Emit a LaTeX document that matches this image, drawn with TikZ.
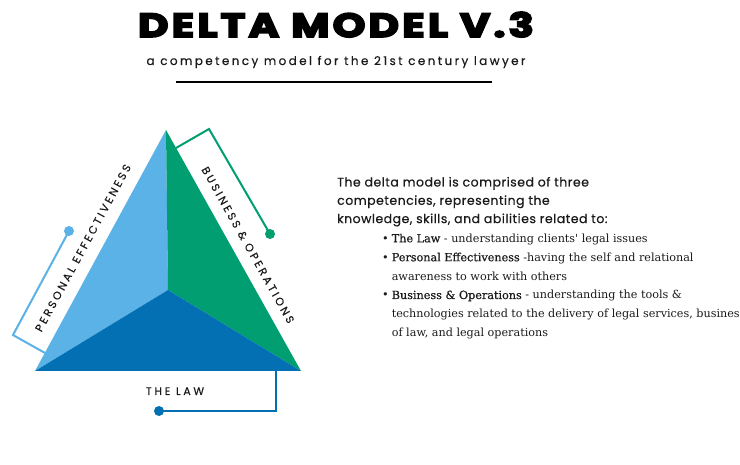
\documentclass[tikz,border=0pt]{standalone}
\usepackage{fontspec}
\setmainfont{Poppins}
\newfontfamily\titlefont{Poppins}[BoldFeatures={FakeBold=5},LetterSpace=8]
\newfontfamily\subfont{Poppins}[LetterSpace=20,FakeBold=0.4]
\newfontfamily\tagfont{Poppins}[LetterSpace=24,FakeBold=0.3]
\newfontfamily\introfont{Poppins}[LetterSpace=4,FakeBold=0.5]
\newfontfamily\itemfont{DejaVu Serif}
\newfontfamily\itembold{DejaVu Serif}[FakeBold=0.6]
\definecolor{peblue}{HTML}{5AB2E6}
\definecolor{bogreen}{HTML}{009E70}
\definecolor{lawblue}{HTML}{0270B2}
\definecolor{ink}{HTML}{1A1A1A}
\begin{document}
\begin{tikzpicture}[x=1pt,y=-1pt,
    link/.style={line width=2pt},
    dot/.style={circle,fill,inner sep=0pt,minimum size=10pt},
    tag/.style={inner sep=0pt,text=ink,font=\tagfont\fontsize{11}{13}\selectfont}]
  \clip (0,0) rectangle (740,465);
  % header
  \node[anchor=base,inner sep=0pt,xscale=1.24,font=\titlefont\bfseries\fontsize{33.5}{36}\selectfont] (title) at (336,37) {DELTA MODEL V.3};
  \node[anchor=base,inner sep=0pt,text=ink,font=\subfont\fontsize{12}{14}\selectfont] (subtitle) at (336,65) {a competency model for the 21st century lawyer};
  \draw[line width=2pt] (176,82) -- (492,82);
  % the delta
  \coordinate (apex) at (166,130);
  \coordinate (bl) at (35,371);
  \coordinate (br) at (301,371);
  \coordinate (mid) at (168,290);
  \fill[peblue] (apex) -- (mid) -- (bl) -- cycle;
  \fill[bogreen] (apex) -- (br) -- (mid) -- cycle;
  \fill[lawblue] (bl) -- (mid) -- (br) -- cycle;
  % personal effectiveness
  \node[dot,fill=peblue] (pedot) at (69,231) {};
  \coordinate (pebend) at (13,335);
  \coordinate (peend) at (45,353);
  \draw[link,peblue] (pedot.center) -- (pebend) -- (peend);
  \node[tag,rotate=61.5] (petag) at (83,248) {PERSONAL EFFECTIVENESS};
  % business and operations
  \node[dot,fill=bogreen] (bodot) at (270,234) {};
  \coordinate (bobend) at (209,129);
  \coordinate (boend) at (176,148);
  \draw[link,bogreen] (bodot.center) -- (bobend) -- (boend);
  \node[tag,rotate=-60.7] (botag) at (248,245) {BUSINESS \& OPERATIONS};
  % the law
  \node[dot,fill=lawblue] (lawdot) at (159,411) {};
  \coordinate (lawbend) at (276,411);
  \coordinate (lawend) at (276,371);
  \draw[link,lawblue] (lawdot.center) -- (lawbend) -- (lawend);
  \node[tag,anchor=base] (lawtag) at (175,395) {THE LAW};
  % text
  \node[anchor=base west,inner sep=0pt,text=ink,font=\introfont\fontsize{12.5}{18.3}\selectfont] (intro) at (337,186.5) {%
    \begin{tabular}[t]{@{}l@{}}
      The delta model is comprised of three\\
      competencies, representing the\\
      knowledge, skills, and abilities related to:
    \end{tabular}};
  \node[anchor=base west,inner sep=0pt,text=ink,font=\itemfont\fontsize{11.2}{18.9}\selectfont] (items) at (382,242.3) {%
    \begin{tabular}[t]{@{}l@{\hspace{3pt}}l@{}}
      • & {\itembold The Law} - understanding clients' legal issues\\
      • & {\itembold Personal Effectiveness} -having the self and relational\\
        & awareness to work with others\\
      • & {\itembold Business \& Operations} - understanding the tools \&\\
        & technologies related to the delivery of legal services, business\\
        & of law, and legal operations
    \end{tabular}};
\end{tikzpicture}
\end{document}
